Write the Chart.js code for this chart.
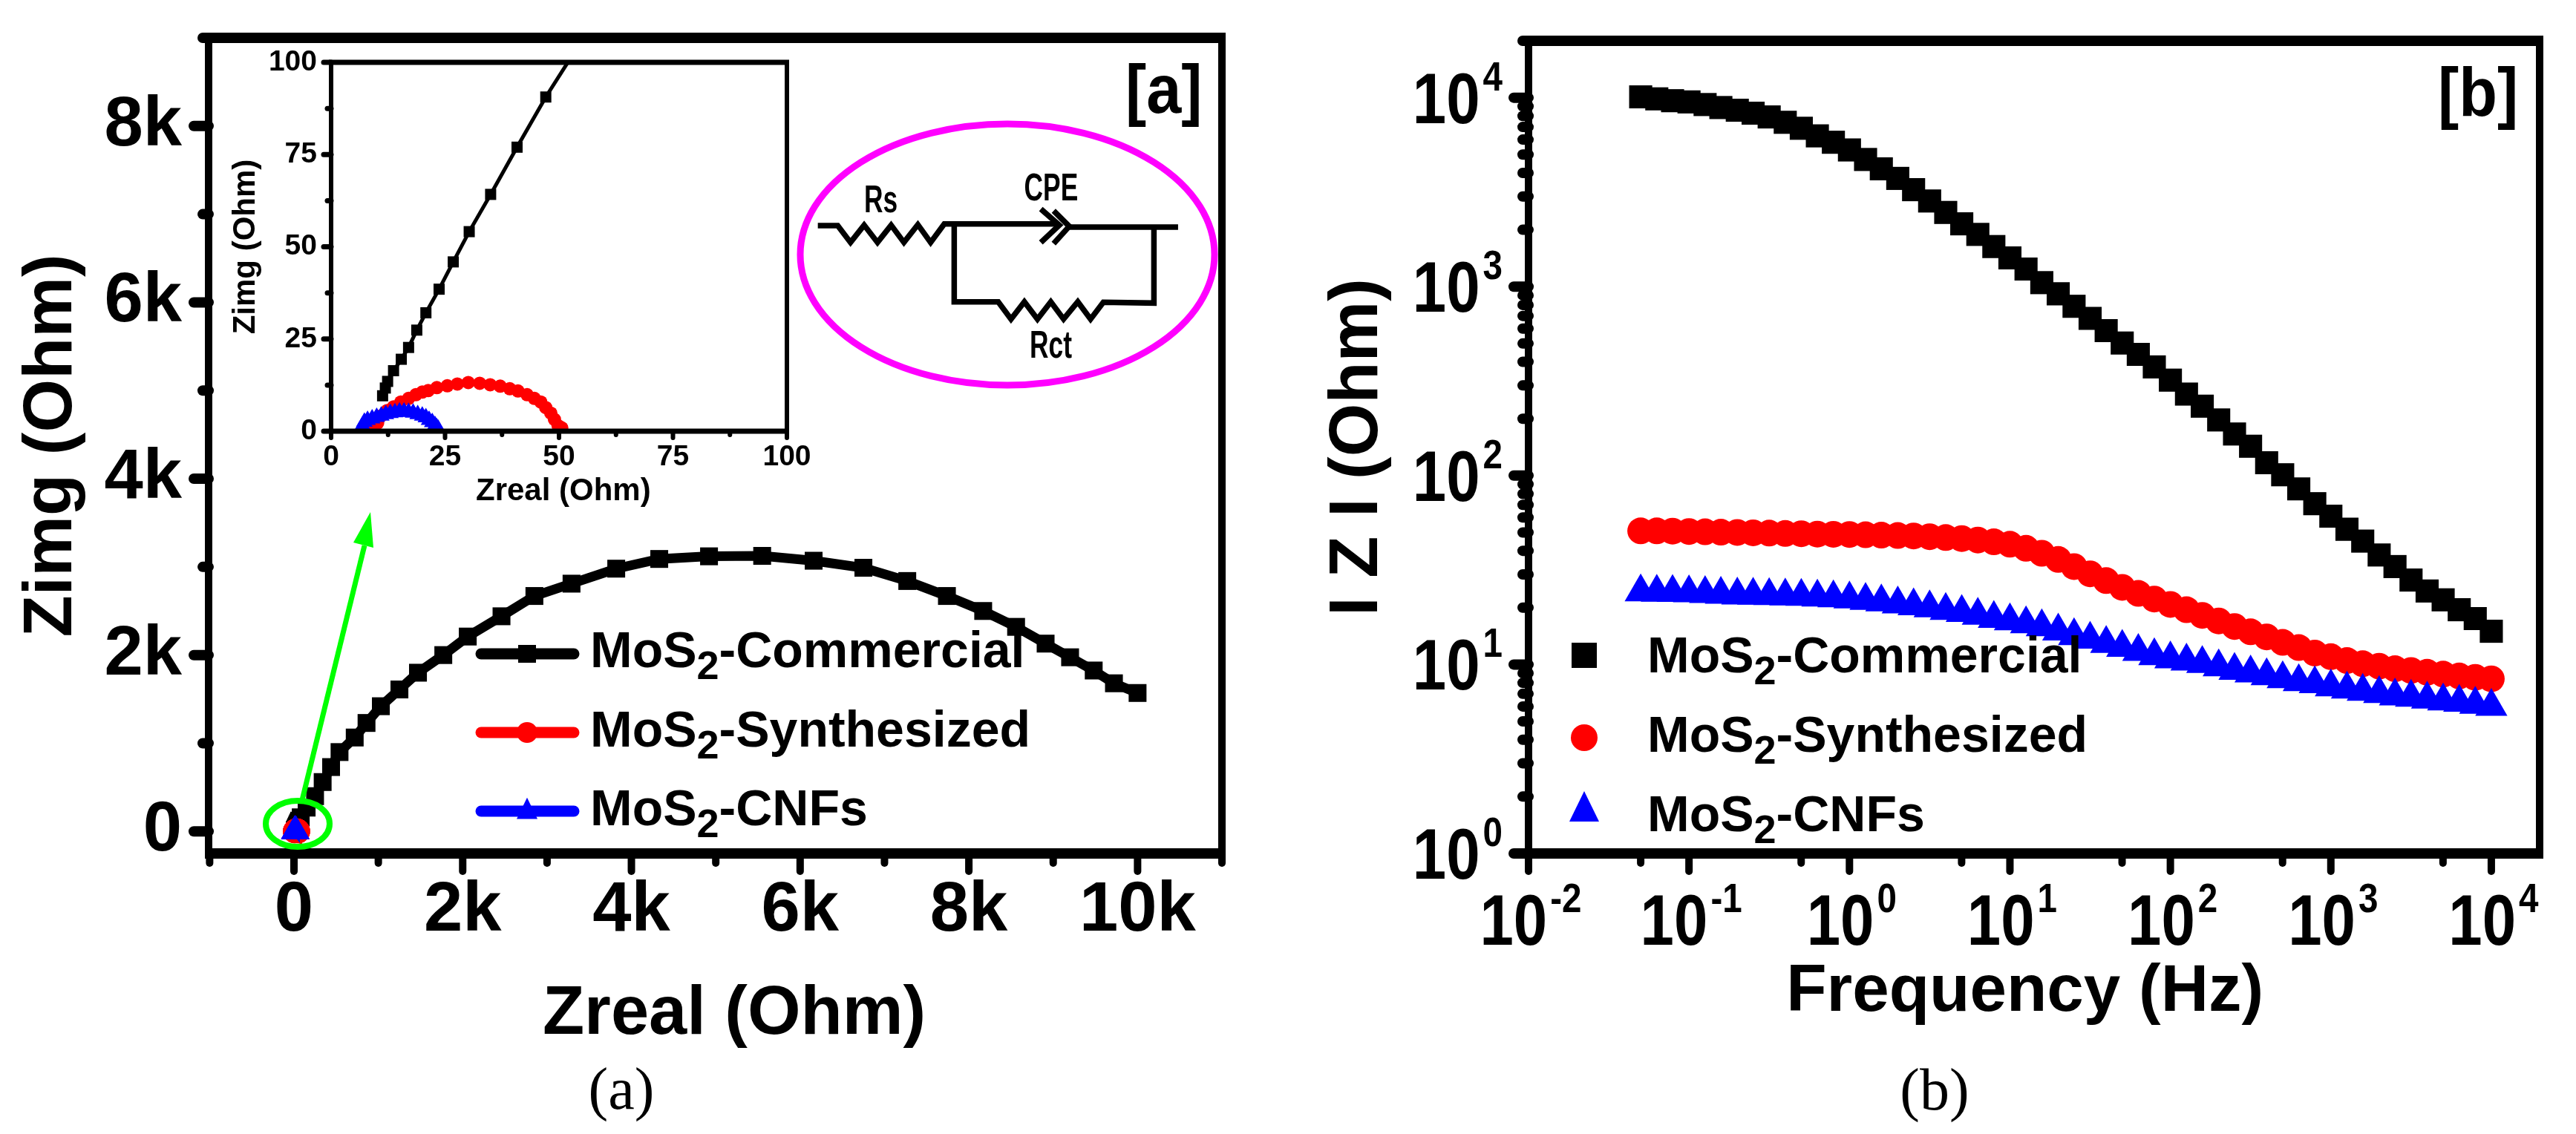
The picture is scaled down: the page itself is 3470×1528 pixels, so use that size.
<!DOCTYPE html>
<html>
<head>
<meta charset="utf-8">
<style>
html,body{margin:0;padding:0;background:#fff;width:3470px;height:1528px;overflow:hidden}
canvas{position:absolute;display:block}
</style>
<script src="https://cdn.jsdelivr.net/npm/chart.js@4/dist/chart.umd.js"></script>
</head>
<body>
<canvas id="mainA" width="1735" height="1528" style="left:0;top:0"></canvas>
<canvas id="inset" width="830" height="660" style="left:290px;top:60px"></canvas>
<canvas id="mainB" width="1735" height="1528" style="left:1735px;top:0"></canvas>
<script>
const seriesNames = ['MoS2-Commercial', 'MoS2-Synthesized', 'MoS2-CNFs'];

const commercialZreal = [11.3,11.9,12.4,13.7,15.4,17,18.8,20.8,23.7,26.8,30.3,35,40.8,47.1,54,62,80,150,250,340,440,540,720,860,1030,1250,1470,1770,2060,2460,2850,3290,3820,4330,4920,5550,6160,6750,7270,7740,8170,8560,8910,9200,9480,9720,10000];
const commercialZimg  = [9.6,11.7,13.5,16.4,19.5,22.7,27.4,32.1,38.5,45.9,54.1,64.2,77,90.6,104,122,160,270,400,560,730,900,1065,1230,1420,1610,1800,2000,2210,2440,2670,2810,2980,3090,3120,3125,3070,2990,2840,2670,2500,2320,2130,1975,1825,1680,1570];
const synthesizedZreal = [8.8,9.3,10.2,11,12.3,13.7,15.3,17,18.6,20,21.3,23.2,25.5,27.7,30.1,32.6,34.9,37.1,39.2,41,43,44.6,46,47.1,48.2,49,49.8,50.2,50.6];
const synthesizedZimg  = [0.6,0.9,2.2,4.2,5.6,6.6,7.9,8.9,9.9,10.6,11,11.8,12.3,12.8,13.2,13,12.6,12.2,11.5,10.9,9.9,8.9,7.9,6.4,4.9,3.2,1.5,1.1,0.9];
const cnfZreal = [6.6,6.9,7.3,8,9,10,11,12,13,14,15,16,17,18,19,20,20.8,21.5,22.2,22.8,23.2,23.5];
const cnfZimg  = [0.8,1.5,2.5,3,3.4,3.8,4.2,4.6,4.9,5.1,5.3,5.3,5.2,5,4.6,4.2,3.7,3,2.4,1.6,1,0.6];

const frequencies = [0.05,0.063,0.079,0.1,0.126,0.158,0.2,0.251,0.316,0.398,0.501,0.631,0.794,1,1.26,1.58,2,2.51,3.16,3.98,5.01,6.31,7.94,10,12.6,15.8,20,25.1,31.6,39.8,50.1,63.1,79.4,100,126,158,200,251,316,398,501,631,794,1000,1260,1580,2000,2510,3160,3980,5010,6310,7940,10000];
const commercialZ = [10100,9860,9640,9500,9200,8870,8590,8280,7910,7410,6890,6280,5810,5290,4710,4200,3740,3260,2840,2470,2150,1890,1630,1420,1240,1050,916,787,679,585,503,438,376,320,270,233,197,166,143,117,101,85,71,61,52,45,38,33,28,24.5,22,19.5,17.5,15];
const synthesizedZ = [51,51,50.8,50.6,50.4,50.2,50,49.8,49.6,49.4,49.2,49,48.9,48.8,48.6,48.4,48.2,47.9,47.5,47,46.4,45.6,44.6,43.3,41.2,38.8,36,33,30.2,27.8,25.6,23.8,22.2,20.8,19.5,18.2,17,15.9,14.9,14,13.1,12.3,11.5,11,10.5,10.1,9.8,9.5,9.3,9.1,8.9,8.7,8.55,8.4];
const cnfZ = [24.2,24.1,24,23.9,23.7,23.5,23.3,23.2,23.1,23,22.9,22.7,22.5,22.2,21.8,21.4,20.9,20.4,19.9,19.3,18.8,18.2,17.5,17,16.4,15.8,15,14.2,13.6,12.9,12.3,11.7,11.1,10.7,10.4,10.1,9.7,9.3,9,8.7,8.4,8.1,7.9,7.6,7.4,7.2,7,6.8,6.7,6.55,6.4,6.3,6.15,6];

const mainXMajor = [0,2000,4000,6000,8000,10000];
const mainXMinor = [-1000,1000,3000,5000,7000,9000,11000];
const mainXLabels = ['0','2k','4k','6k','8k','10k'];
const mainYMajor = [0,2000,4000,6000,8000];
const mainYMinor = [1000,3000,5000,7000,9000];
const mainYLabels = ['0','2k','4k','6k','8k'];
const insetMajor = [0,25,50,75,100];
const insetMinor = [12.5,37.5,62.5,87.5];
const insetLabels = ['0','25','50','75','100'];
const freqMajor = [0.01,0.1,1,10,100,1000,10000];
const freqMinor = [0.05,0.5,5,50,500,5000];
const freqExponents = ['-2','-1','0','1','2','3','4'];
const impMajor = [1,10,100,1000,10000];
const impMinor = [2,3,4,5,6,7,8,9,20,30,40,50,60,70,80,90,200,300,400,500,600,700,800,900,2000,3000,4000,5000,6000,7000,8000,9000,20000];
const impExponents = ['0','1','2','3','4'];

const FF = '"Liberation Sans"';
const BLACK='#000000', RED='#ff0000', BLUE='#0000ff', GREEN='#00ff00', MAGENTA='#ff00ff';

function xy(xs, ys){ return xs.map((x,i)=>({x:x,y:ys[i]})); }

function axis(type,min,max,size,major,minor,labels,fontSize,pad,title,titleSize,titlePad){
  return {
    type:type,min:min,max:max,offset:false,
    grid:{display:false,drawTicks:false},
    border:{display:false},
    title:{display:true,text:title,color:BLACK,
      font:{family:FF,weight:'bold',size:titleSize,lineHeight:1},padding:titlePad},
    ticks:{
      display:!!labels,
      color:BLACK,autoSkip:false,maxRotation:0,minRotation:0,padding:pad,
      font:{family:FF,weight:'bold',size:fontSize,lineHeight:1},
      callback:function(v){const i=major.indexOf(Number(v));return (labels&&i>=0)?labels[i]:'';}
    },
    afterBuildTicks:function(s){
      s.ticks=major.map(v=>({value:v,major:true})).concat(minor.map(v=>({value:v,major:false})))
        .sort((a,b)=>a.value-b.value);
    },
    afterFit:function(s){
      if(s.isHorizontal()) s.height=size; else s.width=size;
      s.paddingLeft=s.paddingRight=s.paddingTop=s.paddingBottom=0;
    }
  };
}

function framePlugin(o){
  return {id:'frame',afterDatasetsDraw:function(c){
    const a=c.chartArea,g=c.ctx;
    g.save();g.strokeStyle=BLACK;g.lineCap='round';
    g.lineWidth=o.vw;
    c.scales.x.ticks.forEach(t=>{
      const p=c.scales.x.getPixelForValue(t.value);
      g.beginPath();g.moveTo(p,a.bottom);g.lineTo(p,a.bottom+(t.major?o.xMaj:o.xMin));g.stroke();
    });
    g.beginPath();g.moveTo(a.left,a.top);g.lineTo(a.left,a.bottom);g.stroke();
    g.beginPath();g.moveTo(a.right,a.top);g.lineTo(a.right,a.bottom);g.stroke();
    g.lineWidth=o.hw;
    c.scales.y.ticks.forEach(t=>{
      const p=c.scales.y.getPixelForValue(t.value);
      g.beginPath();g.moveTo(a.left,p);g.lineTo(a.left-(t.major?o.yMaj:o.yMin),p);g.stroke();
    });
    g.lineCap='butt';
    g.beginPath();g.moveTo(a.left-o.vw/2,a.top);g.lineTo(a.right+o.vw/2,a.top);g.stroke();
    g.beginPath();g.moveTo(a.left-o.vw/2,a.bottom);g.lineTo(a.right+o.vw/2,a.bottom);g.stroke();
    g.restore();
  }};
}

function marker(g,kind,x,y,r,color){
  g.fillStyle=color;g.beginPath();
  if(kind==='rect'){g.rect(x-r,y-r,2*r,2*r);}
  else if(kind==='circle'){g.arc(x,y,r,0,Math.PI*2);}
  else {g.moveTo(x,y-r*1.3);g.lineTo(x+r,y+r*0.75);g.lineTo(x-r,y+r*0.75);g.closePath();}
  g.fill();
}

function squeezed(g,text,x,y,size,sx,align,weight){
  g.save();g.translate(x,y);g.scale(sx,1);
  g.font=(weight||'bold')+' '+size+'px '+FF;g.textAlign=align||'left';g.textBaseline='alphabetic';
  g.fillStyle=BLACK;g.fillText(text,0,0);g.restore();
}

function powerLabel(g,exp,anchorX,baseY,align){
  const sx=0.85;
  g.save();
  g.font='bold 96px '+FF;const w1=g.measureText('10').width*sx;
  g.font='bold 56px '+FF;const w2=g.measureText(exp).width*sx;
  g.restore();
  const total=w1+4+w2;
  const left=align==='right'?anchorX-total:anchorX-total/2;
  squeezed(g,'10',left,baseY,96,sx);
  squeezed(g,exp,left+w1+4,baseY-44,56,sx);
}

function legendText(g,name,x,y){
  const k=name.indexOf('2'),a=name.slice(0,k),b=name.slice(k+1);
  g.fillStyle=BLACK;g.textAlign='left';g.textBaseline='alphabetic';
  g.font='bold 68px '+FF;g.fillText(a,x,y);
  let w=g.measureText(a).width;
  g.font='bold 54px '+FF;g.fillText('2',x+w,y+16);
  w+=g.measureText('2').width;
  g.font='bold 68px '+FF;g.fillText(b,x+w,y);
}

const kinds=['rect','circle','triangle'];
const colors=[BLACK,RED,BLUE];

const annotA={id:'annotA',afterDraw:function(c){
  const g=c.ctx;g.save();
  g.strokeStyle=GREEN;g.lineWidth=8;
  g.beginPath();g.ellipse(401,1110,43,31,0,0,Math.PI*2);g.stroke();
  g.lineWidth=7;g.beginPath();g.moveTo(407,1078);g.lineTo(491,735);g.stroke();
  g.fillStyle=GREEN;g.beginPath();g.moveTo(499,690);g.lineTo(503,738);g.lineTo(476,731);g.closePath();g.fill();
  squeezed(g,'[a]',1516,152,92,0.92);
  const ly=[881,987,1093],by=[899,1006,1112];
  seriesNames.forEach((n,i)=>{
    g.strokeStyle=colors[i];g.lineWidth=15;g.lineCap='round';
    g.beginPath();g.moveTo(648,ly[i]);g.lineTo(773,ly[i]);g.stroke();g.lineCap='butt';
    marker(g,kinds[i],710,ly[i],i===0?12:14,colors[i]);
    legendText(g,n,795,by[i]);
  });
  const X=z=>z/2.613+1050,Y=z=>z/3+130;
  g.strokeStyle=MAGENTA;g.lineWidth=9;
  g.beginPath();g.ellipse(1357,343,279,176,0,0,Math.PI*2);g.stroke();
  g.strokeStyle=BLACK;g.lineWidth=7.5;g.lineJoin='miter';
  const paths=[
    [[135,522],[205,522],[250,590],[298,520],[345,590],[393,520],[438,590],[487,518],[532,590],[580,515],[975,515]],
    [[920,455],[985,520],[920,590]],
    [[965,462],[1020,525],[965,595]],
    [[1020,528],[1403,528]],
    [[615,525],[615,830],[770,830],[815,900],[862,830],[908,900],[955,830],[1000,900],[1050,830],[1095,900],[1140,832],[1318,835],[1318,528]]
  ];
  paths.forEach(p=>{g.beginPath();p.forEach((q,i)=>{const x=X(q[0]),y=Y(q[1]);i?g.lineTo(x,y):g.moveTo(x,y);});g.stroke();});
  [['Rs',357,467],['CPE',956,420],['Rct',955,1055]].forEach(t=>{
    squeezed(g,t[0],X(t[1]),Y(t[2]),52,0.68,'center');
  });
  g.font='80px "Liberation Serif"';g.fillStyle=BLACK;g.textAlign='center';g.textBaseline='alphabetic';
  g.fillText('(a)',837,1494);
  g.restore();
}};

const annotB={id:'annotB',afterDraw:function(c){
  const g=c.ctx;g.save();
  squeezed(g,'[b]',3284-1735,156,92,0.92);
  const ly=[883,994,1092],by=[906,1013,1120];
  seriesNames.forEach((n,i)=>{
    marker(g,kinds[i],2134-1735,ly[i],i===0?17:(i===2?20:18),colors[i]);
    legendText(g,n,2219-1735,by[i]);
  });
  freqMajor.forEach((v,i)=>powerLabel(g,freqExponents[i],c.scales.x.getPixelForValue(v)+3,1273,'center'));
  impMajor.forEach((v,i)=>powerLabel(g,impExponents[i],2024-1735,c.scales.y.getPixelForValue(v)+34,'right'));
  g.font='80px "Liberation Serif"';g.fillStyle=BLACK;g.textAlign='center';g.textBaseline='alphabetic';
  g.fillText('(b)',2606-1735,1495);
  g.restore();
}};

function lineSet(label,xs,ys,color,style,r,lw,order){
  return {label:label,data:xy(xs,ys),borderColor:color,backgroundColor:color,borderWidth:lw,
    pointStyle:style,pointRadius:r,pointBorderWidth:0,pointHoverRadius:r,tension:0,order:order,showLine:lw>0};
}
const base={responsive:false,animation:false,events:[],parsing:false,normalized:true};
const noPlugins={legend:{display:false},title:{display:false},tooltip:{enabled:false}};

new Chart(document.getElementById('mainA'),{
  type:'line',
  data:{datasets:[
    lineSet(seriesNames[0],commercialZreal,commercialZimg,BLACK,'rect',17,13,2),
    lineSet(seriesNames[1],synthesizedZreal,synthesizedZimg,RED,'circle',16,11,1),
    lineSet(seriesNames[2],cnfZreal,cnfZimg,BLUE,'triangle',21,11,0)
  ]},
  options:Object.assign({},base,{
    layout:{padding:{left:11,right:1735-1646,top:51,bottom:78}},
    plugins:noPlugins,
    scales:{
      x:axis('linear',-1012,11000,300,mainXMajor,mainXMinor,mainXLabels,94,31,'  Zreal (Ohm)',92,{top:0,bottom:36}),
      y:axis('linear',-250,9000,270,mainYMajor,mainYMinor,mainYLabels,94,36,'Zimg (Ohm)',92,{top:14,bottom:0})
    }
  }),
  plugins:[framePlugin({vw:10,hw:14,xMaj:24,xMin:13,yMaj:20,yMin:8}),annotA]
});

new Chart(document.getElementById('inset'),{
  type:'line',
  data:{datasets:[
    lineSet(seriesNames[0],commercialZreal,commercialZimg,BLACK,'rect',10.6,5,2),
    lineSet(seriesNames[1],synthesizedZreal,synthesizedZimg,RED,'circle',9,7,1),
    lineSet(seriesNames[2],cnfZreal,cnfZimg,BLUE,'triangle',13,7,0)
  ]},
  options:Object.assign({},base,{
    layout:{padding:{left:6,right:60,top:24,bottom:29}},
    plugins:noPlugins,
    scales:{
      x:axis('linear',0,100,110,insetMajor,insetMinor,insetLabels,39,16,' Zreal (Ohm)',42,{top:0,bottom:8}),
      y:axis('linear',0,100,150,insetMajor,insetMinor,insetLabels,39,19,'Zimg (Ohm)',42,{top:14,bottom:0})
    }
  }),
  plugins:[framePlugin({vw:6,hw:7,xMaj:9,xMin:5,yMaj:10,yMin:5})]
});

new Chart(document.getElementById('mainB'),{
  type:'line',
  data:{datasets:[
    lineSet(seriesNames[0],frequencies,commercialZ,BLACK,'rect',22,0,2),
    lineSet(seriesNames[1],frequencies,synthesizedZ,RED,'circle',18,0,1),
    lineSet(seriesNames[2],frequencies,cnfZ,BLUE,'triangle',25,0,0)
  ]},
  options:Object.assign({},base,{
    layout:{padding:{left:14,right:49,top:55,bottom:78}},
    plugins:noPlugins,
    scales:{
      x:axis('logarithmic',0.01,20000,300,freqMajor,freqMinor,null,90,45,'Frequency (Hz) ',89,{top:0,bottom:68}),
      y:axis('logarithmic',1,20000,310,impMajor,impMinor,null,90,35,'I Z I (Ohm)',92,{top:35,bottom:0})
    }
  }),
  plugins:[framePlugin({vw:10,hw:14,xMaj:24,xMin:13,yMaj:20,yMin:8}),annotB]
});
</script>
</body>
</html>
